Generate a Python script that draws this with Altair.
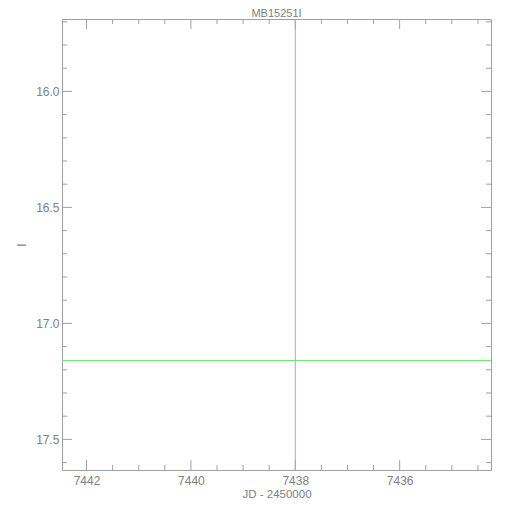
import altair as alt
import pandas as pd

title_text = "MB15251I"
x_title = "JD - 2450000"
y_title = "I"

x_domain = [7434.25, 7442.47]
y_domain = [15.688, 17.632]

x_major = [7436, 7438, 7440, 7442]
x_minor = [7434.5, 7435.0, 7435.5, 7436.5, 7437.0, 7437.5, 7438.5, 7439.0, 7439.5,
           7440.5, 7441.0, 7441.5, 7442.0]
y_major = [16.0, 16.5, 17.0, 17.5]
y_minor = [15.7, 15.8, 15.9, 16.1, 16.2, 16.3, 16.4, 16.6, 16.7, 16.8, 16.9,
           17.1, 17.2, 17.3, 17.4, 17.6]

vline_x = [7438.0]
hline_y = [17.16]

W, H = 429, 451
AX = "#a0a0a0"
TXT = "#808080"
FONT = "Liberation Sans"

xs = alt.Scale(domain=x_domain, reverse=True, nice=False, zero=False)
ys = alt.Scale(domain=y_domain, reverse=True, nice=False, zero=False)

xax = alt.Axis(values=x_major, format="d", ticks=False, domain=False, grid=False,
               labelColor=TXT, labelFontSize=12, labelPadding=5, labelFont=FONT,
               title=x_title, titleColor=TXT, titleFontSize=11.5, titleFontWeight="normal",
               titlePadding=2, titleFont=FONT)
yax = alt.Axis(values=y_major, format=".1f", ticks=False, domain=False, grid=False,
               labelColor=TXT, labelFontSize=12, labelPadding=3, labelFont=FONT,
               title=y_title, titleColor=TXT, titleFontSize=12, titleFontWeight="normal",
               titlePadding=7, titleFont=FONT, titleAngle=270)

def X():
    return alt.X("x:Q", scale=xs, axis=xax)

def Y():
    return alt.Y("y:Q", scale=ys, axis=yax)

base_df = pd.DataFrame({"x": [x_domain[0]], "y": [y_domain[0]]})
frame = alt.Chart(base_df).mark_point(opacity=0, size=1).encode(x=X(), y=Y())

xmaj = pd.DataFrame({"x": x_major})
xmin = pd.DataFrame({"x": x_minor})
ymaj = pd.DataFrame({"y": y_major})
ymin = pd.DataFrame({"y": y_minor})

def xticks(df, L):
    b = alt.Chart(df).mark_rule(color=AX, strokeWidth=1).encode(
        x=X(), y=alt.value(H), y2=alt.value(H - L))
    t = alt.Chart(df).mark_rule(color=AX, strokeWidth=1).encode(
        x=X(), y=alt.value(0), y2=alt.value(L))
    return [b, t]

def yticks(df, L):
    l = alt.Chart(df).mark_rule(color=AX, strokeWidth=1).encode(
        y=Y(), x=alt.value(0), x2=alt.value(L))
    r = alt.Chart(df).mark_rule(color=AX, strokeWidth=1).encode(
        y=Y(), x=alt.value(W), x2=alt.value(W - L))
    return [l, r]

vline = alt.Chart(pd.DataFrame({"x": vline_x})).mark_rule(color="#a8a8d8", strokeWidth=1).encode(x=X())
hline = alt.Chart(pd.DataFrame({"y": hline_y})).mark_rule(color="#66ee66", strokeWidth=1).encode(y=Y())

layers = [frame] + xticks(xmaj, 10) + xticks(xmin, 5) + yticks(ymaj, 10) + yticks(ymin, 5) + [vline, hline]

chart = alt.layer(*layers).properties(
    width=W, height=H,
    title=alt.TitleParams(title_text, color=TXT, fontSize=11, fontWeight="normal",
                          font=FONT, anchor="middle", offset=0, frame="group"),
    autosize=alt.AutoSizeParams(type="none"),
    padding={"left": 54, "top": 11, "right": 11, "bottom": 32},
    background="white",
).configure_view(stroke=AX, strokeWidth=1)

chart.save("out.html", embed_options={"renderer": "svg", "actions": False})
